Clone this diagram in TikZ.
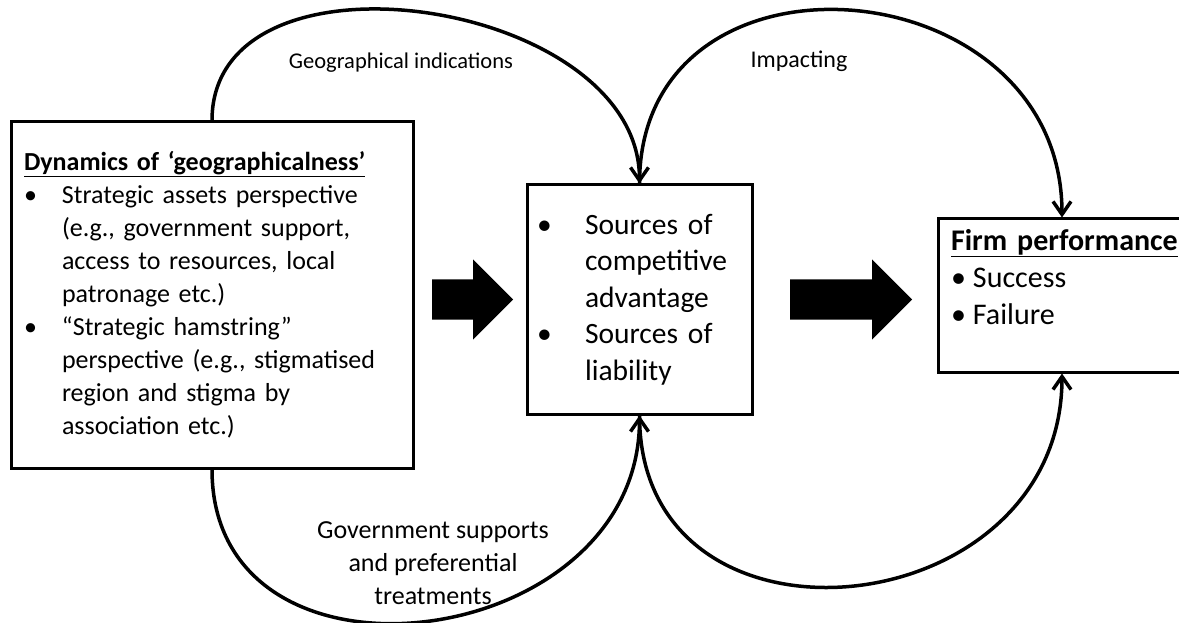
\documentclass[tikz,border=0pt]{standalone}
\usepackage{fontspec}
\setmainfont{Carlito}
\usetikzlibrary{arrows.meta, shapes.arrows}
\tikzset{ %boxes and links
    box/.style={draw, line width=3pt, inner ysep=0pt, align=left},
    link/.style={line width=3.5pt, -{Straight Barb[length=13pt,width=18pt]}},
    fat/.style={single arrow, fill=black, inner xsep=0pt, inner ysep=20pt, single arrow head extend=20pt, anchor=tail},
    tag/.style={align=center, inner sep=0pt},
}
\newcommand{\dotin}[1]{\makebox[#1][l]{\textbullet}}
\newcommand{\skipin}[1]{\hspace*{#1}}

\begin{document}
\begin{tikzpicture}[x=1pt, y=-1pt]
			\useasboundingbox (0,0) rectangle (1179,623);
			\node[box, minimum width=402pt, minimum height=346pt, text width=376pt, inner xsep=13pt,
				font=\fontsize{26}{33}\selectfont] (geo) at (212,295) {\underline{\textbf{Dynamics of ‘geographicalness’}}\\
				\dotin{38pt}Strategic assets perspective\\
				\skipin{38pt}(e.g., government support,\\
				\skipin{38pt}access to resources, local\\
				\skipin{38pt}patronage etc.)\\
				\dotin{38pt}“Strategic hamstring”\\
				\skipin{38pt}perspective (e.g., stigmatised\\
				\skipin{38pt}region and stigma by\\
				\skipin{38pt}association etc.)};
			\node[box, minimum width=225pt, minimum height=229pt, text width=205pt, inner xsep=10pt,
				font=\fontsize{29.5}{36.5}\selectfont] (src) at (639.5,299.5) {\dotin{48pt}Sources of\\
				\skipin{48pt}competitive\\
				\skipin{48pt}advantage\\
				\dotin{48pt}Sources of\\
				\skipin{48pt}liability};
			\node[box, minimum width=248pt, minimum height=153pt, text width=222pt, inner xsep=13pt,
				font=\fontsize{30}{37}\selectfont] (perf) at (1062,295.5) {\underline{\textbf{Firm performance}}\\
				\dotin{22pt}Success\\
				\dotin{22pt}Failure\\
				\rule{0pt}{1pt}};
			\node[fat, minimum height=81pt] (go1) at (432,299.5) {};
			\node[fat, minimum height=122pt] (go2) at (790,299.5) {};
			%\draw[dashed] (go1) -- (go2);
			\draw[link] (geo.north) .. controls +(0,-185) and +(0,-185) .. (src.north);
			\draw[link] (src.north) .. controls +(0,-253) and +(0,-253) .. (perf.north);
			\draw[link] (geo.south) .. controls +(0,238) and +(0,238) .. (src.south);
			\draw[link] (src.south) .. controls +(0,255) and +(0,255) .. (perf.south);
			\node[tag, font=\fontsize{22.5}{27}\selectfont] (lblgeo) at (401,63) {Geographical indications};
			\node[tag, font=\fontsize{24}{27}\selectfont] (lblimp) at (799,61) {Impacting};
			\node[tag, font=\fontsize{26}{33}\selectfont] (lblgov) at (433,563) {Government supports\\ and preferential\\ treatments};
		\end{tikzpicture}
\end{document}
